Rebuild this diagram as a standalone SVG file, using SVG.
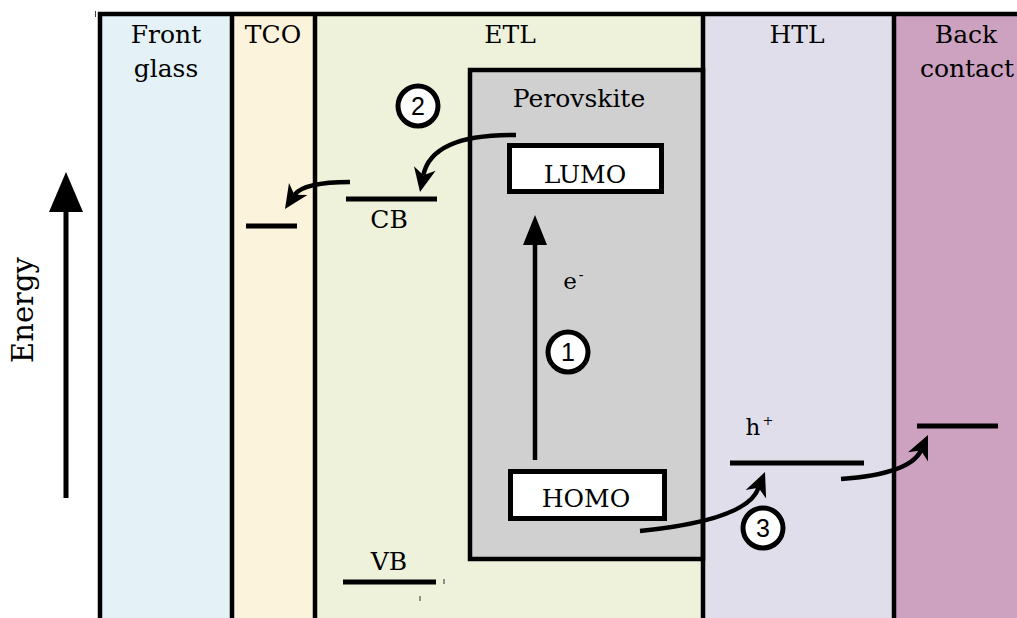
<svg xmlns="http://www.w3.org/2000/svg" width="1017" height="618" viewBox="0 0 1017 618">
<style>
.t{font-family:"DejaVu Serif","Liberation Serif",serif;font-size:25px;fill:#000;text-anchor:middle}
.n{font-family:"Liberation Sans",Arial,sans-serif;font-size:25px;fill:#000;text-anchor:middle}
.b{stroke:#000;stroke-width:4.5;fill:none}
.lvl{stroke:#000;stroke-width:5;fill:none}
.c{fill:#fff;stroke:#000;stroke-width:5}
.ar{stroke:#000;stroke-width:4.5;fill:none}
.hd{fill:#000}
</style>
<rect width="1017" height="618" fill="#fff"/>
<g id="front-glass"><rect x="100" y="14" width="132" height="604" fill="#e4f2f7"/><text class="t" x="166" y="43">Front</text><text class="t" x="166" y="77">glass</text></g>
<g id="tco"><rect x="232" y="14" width="83" height="604" fill="#fcf3dc"/><text class="t" x="273" y="43">TCO</text><line class="lvl" x1="246" y1="226" x2="297" y2="226"/></g>
<g id="etl"><rect x="315" y="14" width="388" height="604" fill="#eef2da"/><text class="t" x="510" y="43">ETL</text>
<line class="lvl" x1="346" y1="199" x2="437" y2="199"/><text class="t" x="389" y="228">CB</text>
<line class="lvl" x1="343" y1="582" x2="436" y2="582"/><text class="t" x="389" y="570">VB</text>
<line x1="444" y1="579" x2="444" y2="584" stroke="#333" stroke-width="1"/><line x1="420" y1="596" x2="420" y2="601" stroke="#333" stroke-width="1"/></g>
<g id="htl"><rect x="703" y="14" width="191" height="604" fill="#dfdeea"/><text class="t" x="797" y="43">HTL</text>
<line class="lvl" x1="730" y1="463" x2="864" y2="463"/>
<text class="t" x="753" y="435" style="font-size:23px">h</text><text class="t" x="768" y="425" style="font-size:13px">+</text></g>
<g id="back-contact"><rect x="894" y="14" width="123" height="604" fill="#cda2c0"/><text class="t" x="966" y="43">Back</text><text class="t" x="967" y="77">contact</text>
<line class="lvl" x1="917" y1="426" x2="998" y2="426"/></g>
<g id="perovskite"><rect x="470" y="70" width="233" height="489" fill="#d0d0d0" stroke="#000" stroke-width="4.5"/><text class="t" x="579" y="107">Perovskite</text></g>
<g id="lumo"><rect x="509.5" y="145.5" width="152" height="46" fill="#fff" stroke="#000" stroke-width="5"/><text class="t" x="585" y="183">LUMO</text></g>
<g id="homo"><rect x="510.5" y="471.5" width="154" height="47" fill="#fff" stroke="#000" stroke-width="5"/><text class="t" x="586" y="507">HOMO</text></g>
<g id="frame">
<line class="b" x1="100" y1="12" x2="100" y2="618"/>
<line class="b" x1="98" y1="14" x2="1017" y2="14"/>
<line class="b" x1="232" y1="14" x2="232" y2="618"/>
<line class="b" x1="315" y1="14" x2="315" y2="618"/>
<line class="b" x1="703" y1="14" x2="703" y2="618"/>
<line class="b" x1="894" y1="14" x2="894" y2="618"/>
<line x1="95.5" y1="11" x2="95.5" y2="17" stroke="#444" stroke-width="1"/>
</g>
<g id="connectors">
<line class="ar" x1="535" y1="460" x2="535" y2="243"/>
<path class="hd" d="M523,245 L535,215 L547,245 Z"/>
<path class="ar" d="M516,135 Q432,134 423.4,175"/>
<path class="hd" d="M420,192 L435.6,170.7 L423.4,175.3 L414,166.3 Z"/>
<path class="ar" d="M350,182 Q304,182 294.4,194.8"/>
<path class="hd" d="M285,209 L289,183 L294.4,194.8 L307.4,195.1 Z"/>
<path class="ar" d="M640,531 Q748,520 758.5,487.7"/>
<path class="hd" d="M765,472 L766.1,498.4 L758.5,487.7 L745.7,490 Z"/>
<path class="ar" d="M841,479 Q910,474 920.9,450.5"/>
<path class="hd" d="M928,435 L928,461.4 L920.9,450.5 L908,452.2 Z"/>
<line x1="66" y1="498" x2="66" y2="208" stroke="#000" stroke-width="5"/>
<path class="hd" d="M49,212 L66,172 L83,212 Z"/>
</g>
<g id="energy-label"><text class="t" transform="translate(33,310) rotate(-90)" style="font-size:29px">Energy</text></g>
<g id="e-label"><text class="t" x="570" y="289" style="font-size:23px">e</text><text class="t" x="581" y="280" style="font-size:14px">-</text></g>
<g id="step1"><circle class="c" cx="568" cy="352" r="20"/><text class="n" x="568" y="361">1</text></g>
<g id="step2"><circle class="c" cx="418" cy="106" r="20"/><text class="n" x="418" y="115">2</text></g>
<g id="step3"><circle class="c" cx="763" cy="528" r="20"/><text class="n" x="763" y="537">3</text></g>
</svg>
